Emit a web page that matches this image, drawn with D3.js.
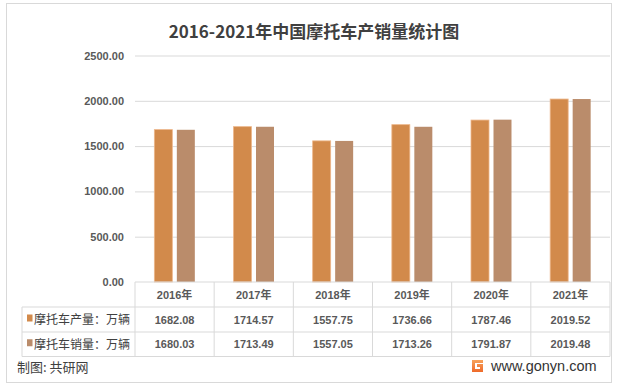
<!DOCTYPE html>
<html><head><meta charset="utf-8">
<script src="https://cdn.jsdelivr.net/npm/d3@7"></script>
<style>
html,body{margin:0;padding:0;background:#fff;}
svg{display:block;font-family:"Liberation Sans","Noto Sans CJK SC",sans-serif;}
</style></head>
<body><svg id="c" width="618" height="386"></svg>
<script>
const title = "2016-2021年中国摩托车产销量统计图";
const categories = ["2016年","2017年","2018年","2019年","2020年","2021年"];
const seriesNames = ["摩托车产量：万辆","摩托车销量：万辆"];
const production = [1682.08,1714.57,1557.75,1736.66,1787.46,2019.52];
const sales = [1680.03,1713.49,1557.05,1713.26,1791.87,2019.48];
const yTicks = [0,500,1000,1500,2000,2500];
const colors = ["#D28A4B","#BA8C6B"];
const series = [production, sales];

const svg = d3.select("#c");
const plotL = 135, plotR = 610, plotT = 55.5, plotB = 282;
const tableLeft = 22;
const rowLines = [282, 307, 332, 356.5];

// frame
svg.append("rect").attr("x",6.5).attr("y",3.5).attr("width",605).attr("height",379)
  .attr("fill","#fff").attr("stroke","#D9D9D9").attr("stroke-width",1);

// title
svg.append("text").attr("x",314).attr("y",38).attr("text-anchor","middle")
  .attr("font-family","'Noto Sans CJK SC',sans-serif")
  .attr("font-size",17).attr("font-weight","bold").attr("fill","#404040").text(title);

const y = d3.scaleLinear().domain([0,2500]).range([plotB, plotT]);
const x0 = d3.scaleBand().domain(categories).range([plotL,plotR]).paddingInner(0).paddingOuter(0);
const x1 = d3.scaleBand().domain([0,1]).range([0,x0.bandwidth()]).paddingInner(0.2).paddingOuter(0.86);

// gridlines
const grid = d3.axisLeft(y).tickValues(yTicks.filter(d=>d>0)).tickSize(-(plotR-plotL)).tickFormat("");
svg.append("g").attr("transform",`translate(${plotL},0)`).call(grid)
  .call(g=>g.select(".domain").remove())
  .call(g=>g.selectAll("line").attr("stroke","#D9D9D9"));

// y labels
const yAxis = d3.axisLeft(y).tickValues(yTicks).tickSize(0).tickPadding(11).tickFormat(d=>d3.format(".2f")(d));
svg.append("g").attr("transform",`translate(${plotL},0)`).call(yAxis)
  .call(g=>g.select(".domain").remove())
  .call(g=>g.selectAll("text").attr("font-size",11).attr("font-weight","bold").attr("fill","#595959")
    .attr("font-family","'Liberation Sans',sans-serif"));

// bars
categories.forEach((c,i)=>{
  series.forEach((s,j)=>{
    svg.append("rect")
      .attr("x", x0(c)+x1(j)).attr("y", y(s[i]))
      .attr("width", x1.bandwidth()).attr("height", y(0)-y(s[i]))
      .attr("fill", colors[j])
      .attr("stroke", j===0 ? "#EDB68A" : "none").attr("stroke-width", j===0?0.8:0);
  });
});

// table lines
const tl = svg.append("g").attr("stroke","#D9D9D9").attr("stroke-width",1).attr("fill","none");
tl.append("line").attr("x1",plotL).attr("x2",plotR).attr("y1",rowLines[0]).attr("y2",rowLines[0]);
for (let k=1;k<rowLines.length;k++){
  tl.append("line").attr("x1",tableLeft).attr("x2",plotR).attr("y1",rowLines[k]).attr("y2",rowLines[k]);
}
tl.append("line").attr("x1",tableLeft).attr("x2",tableLeft).attr("y1",rowLines[1]).attr("y2",rowLines[3]);
categories.forEach(c=>{
  tl.append("line").attr("x1",x0(c)).attr("x2",x0(c)).attr("y1",rowLines[0]).attr("y2",rowLines[3]);
});
tl.append("line").attr("x1",plotR).attr("x2",plotR).attr("y1",rowLines[0]).attr("y2",rowLines[3]);

// header text
const tf = "'Liberation Sans','Noto Sans CJK SC',sans-serif";
categories.forEach(c=>{
  svg.append("text").attr("x",x0(c)+x0.bandwidth()/2).attr("y",(rowLines[0]+rowLines[1])/2+4)
    .attr("text-anchor","middle").attr("font-size",11).attr("font-weight","bold")
    .attr("font-family",tf).attr("fill","#595959").text(c);
});
series.forEach((s,j)=>{
  const cy = (rowLines[j+1]+rowLines[j+2])/2;
  svg.append("rect").attr("x",27).attr("y",cy-5).attr("width",5.5).attr("height",7).attr("fill",colors[j]);
  svg.append("text").attr("x",34).attr("y",cy+4.5).attr("font-size",12)
    .attr("font-family","'Noto Sans CJK SC',sans-serif").attr("fill","#404040").text(seriesNames[j]);
  categories.forEach((c,i)=>{
    svg.append("text").attr("x",x0(c)+x0.bandwidth()/2).attr("y",cy+4)
      .attr("text-anchor","middle").attr("font-size",11).attr("font-weight","bold")
      .attr("font-family","'Liberation Sans',sans-serif").attr("fill","#595959")
      .text(d3.format(".2f")(s[i]));
  });
});

// footer
svg.append("text").attr("x",17).attr("y",372).attr("font-size",13)
  .attr("font-family","'Noto Sans CJK SC',sans-serif").attr("fill","#404040").text("制图: 共研网");

// logo
const lg = svg.append("g");
const grad = svg.append("defs").append("linearGradient").attr("id","lg").attr("x1",0).attr("y1",0).attr("x2",0).attr("y2",1);
grad.append("stop").attr("offset","0%").attr("stop-color","#F7A35C");
grad.append("stop").attr("offset","100%").attr("stop-color","#EE6A2A");
lg.append("path").attr("d","M472,360 h11 v3 h-8 v6 h5 v-2 h-3 v-3 h6 v8 h-11 z").attr("fill","url(#lg)");
lg.append("text").attr("x",491).attr("y",371).attr("font-size",14.5)
  .attr("font-family","'Liberation Sans',sans-serif").attr("fill","#333").text("www.gonyn.com");
</script></body></html>
